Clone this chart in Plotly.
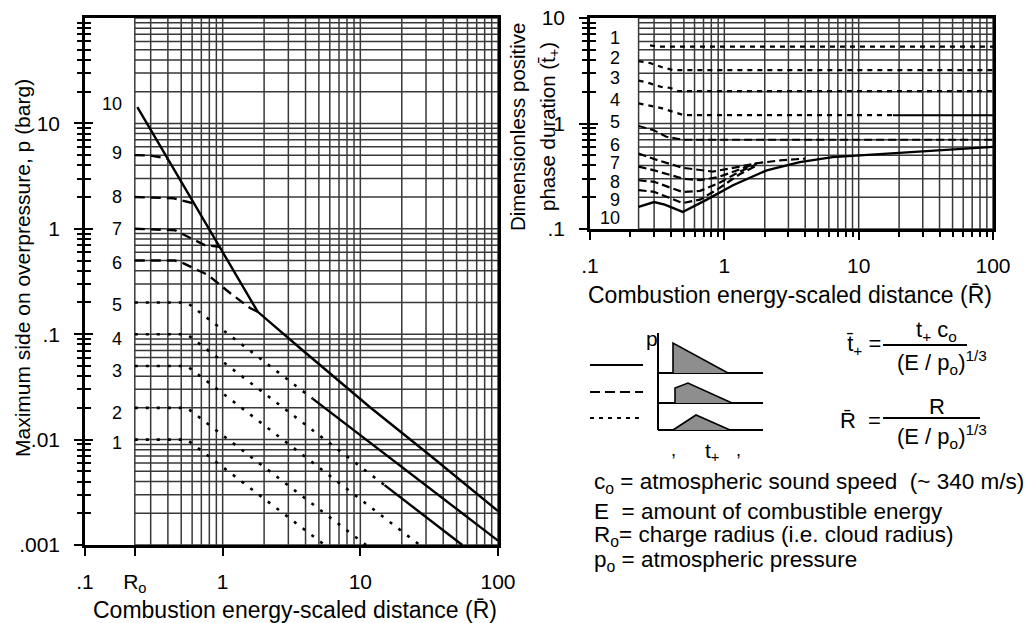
import math
import plotly.graph_objects as go

W, H = 1029, 623
FONT = "Liberation Sans, Arial, Helvetica, sans-serif"


def X(px):
    return px / W


def Y(py):
    return 1 - py / H


R0 = 0.23  # charge radius position on the scaled-distance axis

# ---------------- Left chart: maximum side-on overpressure (bar) ----------------
p_tickvals = [0.001, 0.01, 0.1, 1, 10]
p_ticktext = [".001", ".01", ".1", "1", "10"]
rL_tickvals = [0.1, R0, 1, 10, 100]
rL_ticktext = [".1", "R<sub>o</sub>", "1", "10", "100"]

# strength 10 and the common 7-10 line (solid)
env_R = [0.24, 0.41, 0.62, 0.95, 1.13, 1.53, 1.80, 3.64, 11.7, 32, 100]
env_P = [14.3, 4.35, 1.74, 0.675, 0.459, 0.234, 0.163, 0.074, 0.0204, 0.0071, 0.0021]

c9_R = [0.23, 0.30, 0.36, 0.40]
c9_P = [5.0, 4.95, 4.75, 4.6]
c8_R = [0.23, 0.44, 0.51, 0.62]
c8_P = [2.0, 1.95, 1.85, 1.74]
c7_R = [0.23, 0.45, 0.74, 0.95]
c7_P = [1.0, 0.97, 0.70, 0.675]
c6_R = [0.23, 0.45, 0.52, 0.78, 1.13, 1.58, 1.80]
c6_P = [0.5, 0.5, 0.47, 0.365, 0.246, 0.177, 0.163]

c5_R = [0.23, 0.55, 1.0, 2.0, 4.5]
c5_P = [0.2, 0.2, 0.11, 0.055, 0.0245]
c5s_R = [4.5, 10, 30, 100]
c5s_P = [0.0245, 0.011, 0.0037, 0.0011]
c4_R = [0.23, 0.55, 1.0, 3.0, 15]
c4_P = [0.1, 0.1, 0.055, 0.0185, 0.0037]
c4s_R = [15, 30, 55]
c4s_P = [0.0037, 0.00185, 0.001]
c3_R = [0.23, 0.55, 1.0, 5.0, 10, 27]
c3_P = [0.05, 0.05, 0.0275, 0.0055, 0.00275, 0.001]
c2_R = [0.23, 0.55, 1.0, 5.0, 11]
c2_P = [0.02, 0.02, 0.011, 0.0022, 0.001]
c1_R = [0.23, 0.55, 1.0, 3.0, 5.5]
c1_P = [0.01, 0.01, 0.0055, 0.00183, 0.001]

strength_labels = ["10", "9", "8", "7", "6", "5", "4", "3", "2", "1"]
p_label_pos = [15.3, 5.2, 2.0, 1.0, 0.47, 0.19, 0.09, 0.045, 0.018, 0.0093]

# ---------------- Right chart: dimensionless positive phase duration ----------------
t_tickvals = [0.1, 1, 10]
t_ticktext = [".1", "1", "10"]
rR_tickvals = [0.1, 1, 10, 100]
rR_ticktext = [".1", "1", "10", "100"]

t1_R = [0.28, 0.32, 100]
t1 = [5.5, 5.35, 5.35]
t2_R = [0.23, 0.28, 0.34, 0.42, 100]
t2 = [3.9, 3.74, 3.43, 3.2, 3.2]
t3_R = [0.23, 0.26, 0.34, 0.40, 0.45, 100]
t3 = [2.55, 2.47, 2.22, 2.17, 2.03, 2.03]
t4_R = [0.23, 0.26, 0.34, 0.50, 18]
t4 = [1.55, 1.5, 1.40, 1.2, 1.2]
t4s_R = [18, 100]
t4s = [1.2, 1.2]
t5_R = [0.23, 0.30, 0.37, 0.50, 100]
t5 = [0.95, 0.86, 0.75, 0.70, 0.70]
t6_R = [0.23, 0.30, 0.49, 0.82, 1.3, 1.74, 2.72, 4.0]
t6 = [0.52, 0.46, 0.38, 0.35, 0.39, 0.42, 0.45, 0.465]
t7_R = [0.23, 0.30, 0.49, 0.66, 0.9, 1.3, 1.74]
t7 = [0.39, 0.36, 0.30, 0.29, 0.31, 0.37, 0.42]
t8_R = [0.23, 0.30, 0.49, 0.66, 0.9, 1.3, 1.74]
t8 = [0.29, 0.28, 0.224, 0.23, 0.27, 0.35, 0.41]
t9_R = [0.23, 0.30, 0.49, 0.66, 0.9, 1.3, 1.74]
t9 = [0.234, 0.225, 0.176, 0.19, 0.24, 0.33, 0.40]
t10_R = [0.23, 0.30, 0.36, 0.49, 0.74, 1.16, 2.07, 3.64, 6.4, 22.7, 100]
t10 = [0.162, 0.18, 0.17, 0.145, 0.19, 0.26, 0.36, 0.43, 0.48, 0.53, 0.60]

t_label_pos = [6.46, 4.18, 2.70, 1.67, 1.03, 0.625, 0.423, 0.279, 0.188, 0.127]
t_labels = ["1", "2", "3", "4", "5", "6", "7", "8", "9", "10"]

# ---------------- Legend sketch (wave shapes) ----------------
wave_shock_x = [83, 83, 138]
wave_shock_y = [60, 90, 60]
wave_ramp_x = [85, 85, 98, 142]
wave_ramp_y = [30, 45, 50, 30]
wave_sonic_x = [83, 106, 140]
wave_sonic_y = [3, 18, 3]

# ---------------- grid values ----------------
p_grid = [m * 10 ** k for k in range(-3, 2) for m in range(1, 10)] + [100]
t_grid = [m * 10 ** k for k in range(-1, 1) for m in range(1, 10)] + [10]
r_grid = [R0] + [m * 10 ** k for k in range(-1, 2) for m in range(1, 10) if m * 10 ** k > R0] + [100]
p_minor = [m * 10 ** k for k in range(-3, 2) for m in range(2, 10)]
t_minor = [m * 10 ** k for k in range(-1, 1) for m in range(2, 10)]
r_minor = [m * 10 ** k for k in range(-1, 2) for m in range(2, 10)]

fig = go.Figure()


def add_line(x, y, xa, ya, dash="solid", width=2.4, color="black", **kw):
    fig.add_trace(go.Scatter(x=x, y=y, xaxis=xa, yaxis=ya, mode="lines",
                             line=dict(color=color, width=width, dash=dash),
                             hoverinfo="skip", showlegend=False, **kw))


def grid_xy(vals, lo, hi, horizontal):
    xs, ys = [], []
    for v in vals:
        if horizontal:
            xs += [lo, hi, None]
            ys += [v, v, None]
        else:
            xs += [v, v, None]
            ys += [lo, hi, None]
    return xs, ys


GRID_C = "#383838"
GRID_W = 1.5

# left grid
gx, gy = grid_xy(p_grid, R0, 100, True)
add_line(gx, gy, "x", "y", width=GRID_W, color=GRID_C)
gx, gy = grid_xy(r_grid, 0.001, 100, False)
add_line(gx, gy, "x", "y", width=GRID_W, color=GRID_C)
# right grid
gx, gy = grid_xy(t_grid, R0, 100, True)
add_line(gx, gy, "x2", "y2", width=GRID_W, color=GRID_C)
gx, gy = grid_xy(r_grid, 0.1, 10, False)
add_line(gx, gy, "x2", "y2", width=GRID_W, color=GRID_C)

DOT_L = "3px,8px"
DASH_L = "10px,6px"

# left curves
add_line(env_R, env_P, "x", "y", width=2.4)
for rr, pp in [(c9_R, c9_P), (c8_R, c8_P), (c7_R, c7_P), (c6_R, c6_P)]:
    add_line(rr, pp, "x", "y", dash=DASH_L, width=2.4)
for rr, pp in [(c5_R, c5_P), (c4_R, c4_P), (c3_R, c3_P), (c2_R, c2_P), (c1_R, c1_P)]:
    add_line(rr, pp, "x", "y", dash=DOT_L, width=2.6)
add_line(c5s_R, c5s_P, "x", "y", width=2.4)
add_line(c4s_R, c4s_P, "x", "y", width=2.4)

# right curves
DOT_R = "5px,5px"
DASH_R = "8px,4px"
for rr, tt in [(t1_R, t1), (t2_R, t2), (t3_R, t3), (t4_R, t4)]:
    add_line(rr, tt, "x2", "y2", dash=DOT_R, width=2.2)
add_line(t4s_R, t4s, "x2", "y2", width=2.0)
add_line(t5_R, t5, "x2", "y2", dash=DASH_R, width=2.0)
for rr, tt in [(t6_R, t6), (t7_R, t7), (t8_R, t8), (t9_R, t9)]:
    add_line(rr, tt, "x2", "y2", dash=DASH_R, width=2.2)
add_line(t10_R, t10, "x2", "y2", width=2.4)

# dummy traces so overlay tick axes are drawn
add_line([1, 1], [1, 1], "x", "y3", width=0, color="rgba(0,0,0,0)")
add_line([1, 1], [1, 1], "x2", "y4", width=0, color="rgba(0,0,0,0)")

# legend sketch
add_line([0, 53], [68, 68], "x5", "y5", width=2.2)
add_line([0, 53], [41, 41], "x5", "y5", dash="10px,5px", width=2.2)
add_line([0, 53], [15, 15], "x5", "y5", dash="4px,5px", width=2.2)
add_line([68, 68], [100, 3], "x5", "y5", width=2.0)
for yb in [60, 30, 3]:
    add_line([68, 173], [yb, yb], "x5", "y5", width=1.8)
for wx, wy in [(wave_shock_x, wave_shock_y), (wave_ramp_x, wave_ramp_y), (wave_sonic_x, wave_sonic_y)]:
    fig.add_trace(go.Scatter(x=wx, y=wy, xaxis="x5", yaxis="y5", mode="lines",
                             fill="toself", fillcolor="#8e8e8e",
                             line=dict(color="black", width=1.6),
                             hoverinfo="skip", showlegend=False))

tickfont = dict(family=FONT, size=21, color="black")
common_log = dict(type="log", showgrid=False, zeroline=False, color="black", automargin=False)

layout = dict(
    template="none",
    width=W, height=H, margin=dict(l=0, r=0, t=0, b=0, pad=0, autoexpand=False),
    paper_bgcolor="white", plot_bgcolor="rgba(0,0,0,0)",
    font=dict(family=FONT, color="black"),
    showlegend=False,
    xaxis=dict(**common_log, domain=[X(85), X(498)], range=[-1, 2], anchor="y",
               tickmode="array", tickvals=rL_tickvals, ticktext=rL_ticktext,
               ticks="outside", ticklen=8, tickwidth=2, tickfont=tickfont,
               ticklabelstandoff=8,
               showline=True, linewidth=2.5, linecolor="black", mirror=True),
    yaxis=dict(**common_log, domain=[Y(545), Y(18)], range=[-3, 2], anchor="x",
               tickmode="array", tickvals=p_tickvals, ticktext=p_ticktext,
               ticks="outside", ticklen=8, tickwidth=2, tickfont=tickfont,
               ticklabelstandoff=10,
               minor=dict(tickmode="array", tickvals=p_minor, ticks="outside",
                          ticklen=5, tickwidth=1.5, showgrid=False),
               showline=True, linewidth=2.5, linecolor="black", mirror=True),
    yaxis3=dict(**common_log, range=[-3, 2], anchor="x", overlaying="y", side="left",
                tickmode="array", tickvals=p_tickvals, ticks="inside", ticklen=8,
                tickwidth=2, showticklabels=False,
                minor=dict(tickmode="array", tickvals=p_minor, ticks="inside",
                           ticklen=6, tickwidth=1.5, showgrid=False),
                showline=False),
    xaxis2=dict(**common_log, domain=[X(590), X(993)], range=[-1, 2], anchor="y2",
                tickmode="array", tickvals=rR_tickvals, ticktext=rR_ticktext,
                ticks="outside", ticklen=8, tickwidth=2, tickfont=tickfont,
                ticklabelstandoff=8,
                minor=dict(tickmode="array", tickvals=r_minor, ticks="outside",
                           ticklen=5, tickwidth=1.5, showgrid=False),
                showline=True, linewidth=2.5, linecolor="black", mirror=True),
    yaxis2=dict(**common_log, domain=[Y(229), Y(18)], range=[-1, 1], anchor="x2",
                tickmode="array", tickvals=t_tickvals, ticktext=t_ticktext,
                ticks="outside", ticklen=8, tickwidth=2, tickfont=tickfont,
                ticklabelstandoff=10,
                minor=dict(tickmode="array", tickvals=t_minor, ticks="outside",
                           ticklen=5, tickwidth=1.5, showgrid=False),
                showline=True, linewidth=2.5, linecolor="black", mirror=True),
    yaxis4=dict(**common_log, range=[-1, 1], anchor="x2", overlaying="y2", side="left",
                tickmode="array", tickvals=t_tickvals, ticks="inside", ticklen=8,
                tickwidth=2, showticklabels=False,
                minor=dict(tickmode="array", tickvals=t_minor, ticks="inside",
                           ticklen=6, tickwidth=1.5, showgrid=False),
                showline=False),
    xaxis5=dict(domain=[X(590), X(765)], range=[0, 175], anchor="y5", visible=False, automargin=False),
    yaxis5=dict(domain=[Y(433), Y(333)], range=[0, 100], anchor="x5", visible=False, automargin=False),
)
fig.update_layout(**layout)

ann = []


def A(text, px, py, size=21, xanchor="center", yanchor="middle", angle=0, xref="paper", yref="paper", x=None, y=None):
    ann.append(dict(text=text, x=X(px) if x is None else x, y=Y(py) if y is None else y,
                    xref=xref, yref=yref, showarrow=False, xanchor=xanchor, yanchor=yanchor,
                    textangle=angle, borderpad=0,
                    font=dict(family=FONT, size=size, color="black")))


# axis titles
A("Maximum side on overpressure, p (barg)", 22, 268, size=21, angle=-90)
A("Combustion energy-scaled distance (R̄)", 295, 610, size=23)
A("Dimensionless positive", 517, 127, size=20.5, angle=-90)
A("phase duration (t̄<sub>+</sub>)", 549, 127, size=20.5, angle=-90)
A("Combustion energy-scaled distance (R̄)", 790, 295, size=23)

# strength labels
for lab, pv in zip(strength_labels, p_label_pos):
    A(lab, 0, 0, size=18, xanchor="right", xref="paper", yref="y",
      x=X(123), y=math.log10(pv))
for lab, tv in zip(t_labels, t_label_pos):
    A(lab, 0, 0, size=18, xanchor="right", xref="paper", yref="y2",
      x=X(621), y=math.log10(tv))

# legend sketch texts
A("p", 652, 338, size=21)
A(",", 673, 450, size=18)
A("t<sub>+</sub>", 712, 452, size=21)
A(",", 738, 450, size=18)

# formulas
A("t̄<sub>+</sub> =", 882, 345, size=22, xanchor="right")
A("t<sub>+</sub> c<sub>o</sub>", 936, 331, size=22)
A("(E / p<sub>o</sub>)<sup>1/3</sup>", 942, 362, size=22)
A("R̄  =", 882, 420, size=22, xanchor="right")
A("R", 937, 406, size=22)
A("(E / p<sub>o</sub>)<sup>1/3</sup>", 942, 436, size=22)

# definitions
A("c<sub>o</sub> = atmospheric sound speed  (~ 340 m/s)", 593, 483, size=22.5, xanchor="left")
A("E  = amount of combustible energy", 593, 511, size=22.5, xanchor="left")
A("R<sub>o</sub>= charge radius (i.e. cloud radius)", 593, 536, size=22.5, xanchor="left")
A("p<sub>o</sub> = atmospheric pressure", 593, 561, size=22.5, xanchor="left")

fig.update_layout(annotations=ann)

shapes = [
    dict(type="line", xref="paper", yref="paper", x0=X(883), x1=X(967), y0=Y(345), y1=Y(345),
         line=dict(color="black", width=2)),
    dict(type="line", xref="paper", yref="paper", x0=X(883), x1=X(980), y0=Y(418), y1=Y(418),
         line=dict(color="black", width=2)),
]
fig.update_layout(shapes=shapes)

fig.write_html("out.html")
